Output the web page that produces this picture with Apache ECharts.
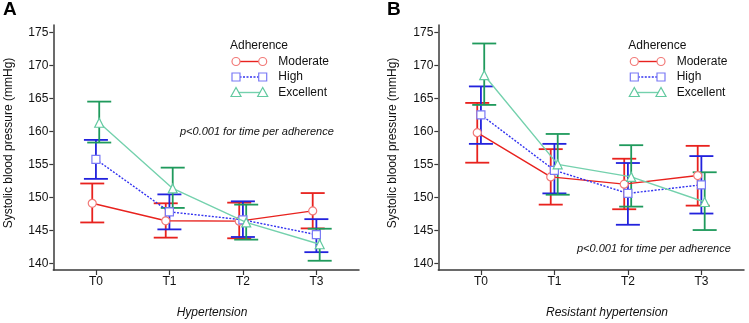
<!DOCTYPE html>
<html><head><meta charset="utf-8">
<script src="https://cdn.jsdelivr.net/npm/echarts@6/dist/echarts.min.js"></script>
<style>html,body{margin:0;padding:0;background:#fff}#c{width:749px;height:323px}</style>
</head><body><div id="c"></div>
<script>
const categories = ['T0', 'T1', 'T2', 'T3'];
const yTicks = [140, 145, 150, 155, 160, 165, 170, 175];
const groups = ['Moderate', 'High', 'Excellent'];

// Panel A: Hypertension
const aModerateMean = [149.1, 146.45, 146.4, 147.95];
const aModerateHi   = [152.1, 149.1, 149.2, 150.65];
const aModerateLo   = [146.2, 143.9, 143.8, 145.3];
const aHighMean = [155.75, 147.8, 146.6, 144.35];
const aHighHi   = [158.7, 150.45, 149.4, 146.7];
const aHighLo   = [152.8, 145.15, 144.0, 141.7];
const aExcMean = [161.3, 151.35, 146.2, 142.9];
const aExcHi   = [164.5, 154.5, 148.9, 145.25];
const aExcLo   = [158.3, 148.4, 143.6, 140.4];

// Panel B: Resistant hypertension
const bModerateMean = [159.8, 153.1, 152.0, 153.3];
const bModerateHi   = [164.3, 157.3, 155.85, 157.8];
const bModerateLo   = [155.25, 148.9, 148.2, 148.75];
const bHighMean = [162.5, 154.1, 150.6, 151.9];
const bHighHi   = [166.8, 158.1, 155.2, 156.25];
const bHighLo   = [158.1, 150.6, 145.85, 147.55];
const bExcMean = [168.5, 155.0, 153.1, 149.3];
const bExcHi   = [173.3, 159.6, 157.9, 153.8];
const bExcLo   = [164.0, 150.4, 148.6, 145.05];

const panelA = [[aModerateMean, aModerateLo, aModerateHi], [aHighMean, aHighLo, aHighHi], [aExcMean, aExcLo, aExcHi]];
const panelB = [[bModerateMean, bModerateLo, bModerateHi], [bHighMean, bHighLo, bHighHi], [bExcMean, bExcLo, bExcHi]];

const dodge = [-0.05, 0, 0.045];
const errColor = ['#e8221e', '#2222dd', '#1f9a5c'];
const lineColor = ['#e8221e', '#3333f0', '#74d1ad'];
const markColor = ['#f27a78', '#7a7af5', '#62c9a0'];
const lineType = ['solid', [2, 1.5], 'solid'];
const symbols = ['circle', 'rect', 'triangle'];
const symSizes = [8, 8, 9];
const FONT = 'Liberation Sans, Arial, sans-serif';
const axisCol = '#3a3a3a';

const chart = echarts.init(document.getElementById('c'));

function makeAxes(gi) {
  return {
    x: {
      type: 'value', gridIndex: gi, min: -0.58, max: 3.58,
      axisLine: {onZero: false, lineStyle: {color: axisCol, width: 1.5}},
      axisTick: {customValues: categories.map((c, i) => i), length: 5, lineStyle: {color: axisCol, width: 1.2}},
      axisLabel: {customValues: categories.map((c, i) => i), formatter: v => categories[Math.round(v)], color: '#111', fontSize: 12, fontFamily: FONT, margin: 6},
      splitLine: {show: false}
    },
    y: {
      type: 'value', gridIndex: gi, min: 139, max: 176.1,
      axisLine: {show: true, onZero: false, lineStyle: {color: axisCol, width: 1.5}},
      axisTick: {show: true, customValues: yTicks, length: 4, lineStyle: {color: axisCol, width: 1.2}},
      axisLabel: {customValues: yTicks, color: '#111', fontSize: 12, fontFamily: FONT, margin: 5},
      splitLine: {show: false}
    }
  };
}
const axA = makeAxes(0), axB = makeAxes(1);

function buildSeries(panel, gi) {
  const out = [];
  panel.forEach((g, k) => {
    const [mean, lo, hi] = g;
    out.push({
      type: 'custom', xAxisIndex: gi, yAxisIndex: gi, z: 2 + k * 0.1, silent: true,
      data: categories.map((c, i) => [i + dodge[k], lo[i], hi[i]]),
      renderItem: function (params, api) {
        const x = api.value(0);
        const pLo = api.coord([x, api.value(1)]);
        const pHi = api.coord([x, api.value(2)]);
        const hw = 12;
        const st = {stroke: errColor[k], lineWidth: 1.8, fill: null};
        return {type: 'group', children: [
          {type: 'line', shape: {x1: pLo[0], y1: pLo[1], x2: pHi[0], y2: pHi[1]}, style: st},
          {type: 'line', shape: {x1: pLo[0] - hw, y1: pLo[1], x2: pLo[0] + hw, y2: pLo[1]}, style: st},
          {type: 'line', shape: {x1: pHi[0] - hw, y1: pHi[1], x2: pHi[0] + hw, y2: pHi[1]}, style: st}
        ]};
      }
    });
  });
  panel.forEach((g, k) => {
    const mean = g[0];
    out.push({
      type: 'line', name: groups[k], xAxisIndex: gi, yAxisIndex: gi, z: 5 + k * 0.1,
      data: categories.map((c, i) => [i + dodge[k], mean[i]]),
      symbol: symbols[k], symbolSize: symSizes[k], showAllSymbol: true,
      lineStyle: {color: lineColor[k], width: 1.4, type: lineType[k]},
      itemStyle: {color: '#fff', borderColor: markColor[k], borderWidth: 1.2},
      emphasis: {disabled: true}, animation: false
    });
  });
  return out;
}

function legendGraphic(x0, lineX1, lineX2, textX) {
  const els = [{type: 'text', x: x0, y: 46, style: {text: 'Adherence', font: '12px ' + FONT, fill: '#111', textVerticalAlign: 'middle'}}];
  const ys = [61.5, 77, 92.5];
  groups.forEach((g, k) => {
    const y = ys[k];
    els.push({type: 'line', shape: {x1: lineX1, y1: y, x2: lineX2, y2: y}, style: {stroke: lineColor[k], lineWidth: 1.4, lineDash: k === 1 ? [2, 1.5] : null}});
    [lineX1, lineX2].forEach(px => {
      if (k === 0) els.push({type: 'circle', shape: {cx: px, cy: y, r: 4}, style: {fill: '#fff', stroke: markColor[k], lineWidth: 1.2}});
      if (k === 1) els.push({type: 'rect', shape: {x: px - 4, y: y - 4, width: 8, height: 8}, style: {fill: '#fff', stroke: markColor[k], lineWidth: 1.2}});
      if (k === 2) els.push({type: 'polygon', shape: {points: [[px, y - 5], [px - 5, y + 4], [px + 5, y + 4]]}, style: {fill: '#fff', stroke: markColor[k], lineWidth: 1.2}});
    });
    els.push({type: 'text', x: textX, y: y, style: {text: g, font: '12px ' + FONT, fill: '#111', textVerticalAlign: 'middle'}});
  });
  return els;
}

const graphics = [
  {type: 'text', x: 3, y: 10, style: {text: 'A', font: 'bold 19px ' + FONT, fill: '#000', textVerticalAlign: 'middle'}},
  {type: 'text', x: 387, y: 10, style: {text: 'B', font: 'bold 19px ' + FONT, fill: '#000', textVerticalAlign: 'middle'}},
  {type: 'text', x: 9, y: 143, rotation: Math.PI / 2, style: {text: 'Systolic blood pressure (mmHg)', font: '12px ' + FONT, fill: '#111', textAlign: 'center', textVerticalAlign: 'middle'}},
  {type: 'text', x: 393, y: 143, rotation: Math.PI / 2, style: {text: 'Systolic blood pressure (mmHg)', font: '12px ' + FONT, fill: '#111', textAlign: 'center', textVerticalAlign: 'middle'}},
  {type: 'text', x: 212, y: 313, style: {text: 'Hypertension', font: 'italic 12px ' + FONT, fill: '#111', textAlign: 'center', textVerticalAlign: 'middle'}},
  {type: 'text', x: 607, y: 313, style: {text: 'Resistant hypertension', font: 'italic 12px ' + FONT, fill: '#111', textAlign: 'center', textVerticalAlign: 'middle'}},
  {type: 'text', x: 180, y: 132, style: {text: 'p<0.001 for time per adherence', font: 'italic 11px ' + FONT, fill: '#111', textVerticalAlign: 'middle'}},
  {type: 'text', x: 577, y: 248.5, style: {text: 'p<0.001 for time per adherence', font: 'italic 11px ' + FONT, fill: '#111', textVerticalAlign: 'middle'}}
].concat(legendGraphic(230, 236, 262.7, 278.3)).concat(legendGraphic(628.3, 634.3, 661, 676.7));

chart.setOption({
  animation: false,
  backgroundColor: '#fff',
  grid: [
    {left: 53.3, top: 25, width: 305.7, height: 245},
    {left: 438.3, top: 25, width: 305.7, height: 245}
  ],
  xAxis: [axA.x, axB.x],
  yAxis: [axA.y, axB.y],
  series: buildSeries(panelA, 0).concat(buildSeries(panelB, 1)),
  graphic: graphics
});
</script></body></html>
